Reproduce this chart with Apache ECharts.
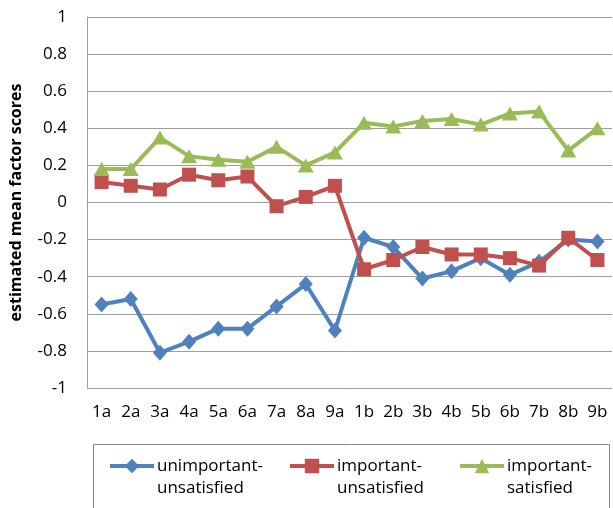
<!DOCTYPE html>
<html>
<head>
<meta charset="utf-8">
<script src="https://cdn.jsdelivr.net/npm/echarts@6/dist/echarts.min.js"></script>
<style>html,body{margin:0;padding:0;background:#fff;}#c{width:613px;height:508px;}</style>
</head>
<body>
<div id="c"></div>
<script>
const categories = ['1a','2a','3a','4a','5a','6a','7a','8a','9a','1b','2b','3b','4b','5b','6b','7b','8b','9b'];
const unimportantUnsatisfied = [-0.55,-0.52,-0.81,-0.75,-0.68,-0.68,-0.56,-0.44,-0.69,-0.19,-0.24,-0.41,-0.37,-0.30,-0.39,-0.32,-0.20,-0.21];
const importantUnsatisfied = [0.11,0.09,0.07,0.15,0.12,0.14,-0.02,0.03,0.09,-0.36,-0.31,-0.24,-0.28,-0.28,-0.30,-0.34,-0.19,-0.31];
const importantSatisfied = [0.18,0.18,0.35,0.25,0.23,0.22,0.30,0.20,0.27,0.43,0.41,0.44,0.45,0.42,0.48,0.49,0.28,0.40];
const seriesNames = ['unimportant-\nunsatisfied','important-\nunsatisfied','important-\nsatisfied'];

const FONT = '"Open Sans", sans-serif';
const GRAY = '#9D9D9D';
const chart = echarts.init(document.getElementById('c'), null, {renderer:'canvas'});

function legendAt(name, left) {
  return {
    data: [name], left: left, top: 433, orient: 'horizontal', padding: 0,
    itemWidth: 44, itemHeight: 18, itemGap: 0,
    lineStyle: {width: 4},
    formatter: '\n{name}',
    textStyle: {fontFamily: FONT, fontSize: 17, color: '#000', lineHeight: 22, padding: [0, 0, 0, -2]},
    selectedMode: false
  };
}

chart.setOption({
  animation: false,
  backgroundColor: '#fff',
  grid: {left: 87, right: 1, top: 17, bottom: 120, containLabel: false},
  graphic: [{
    type: 'rect', shape: {x: 93.5, y: 444.5, width: 516, height: 80},
    style: {fill: 'none', stroke: '#868686', lineWidth: 1}, silent: true, z: 0
  }],
  legend: [legendAt(seriesNames[0], 108), legendAt(seriesNames[1], 288), legendAt(seriesNames[2], 458)],
  xAxis: {
    type: 'category', data: categories, boundaryGap: true,
    axisLine: {lineStyle: {color: GRAY, width: 1}},
    axisTick: {show: false},
    axisLabel: {fontFamily: FONT, fontSize: 17, color: '#000', margin: 16, interval: 0}
  },
  yAxis: {
    type: 'value', min: -1, max: 1, interval: 0.2,
    name: 'estimated mean factor scores', nameLocation: 'middle', nameGap: 63,
    nameTextStyle: {fontFamily: FONT, fontSize: 16, fontWeight: 'bold', color: '#000'},
    axisLine: {show: true, lineStyle: {color: GRAY, width: 1}},
    axisTick: {show: false},
    splitLine: {lineStyle: {color: GRAY, width: 1}},
    axisLabel: {fontFamily: FONT, fontSize: 17, color: '#000', margin: 20}
  },
  series: [
    {name: seriesNames[0], type: 'line', data: unimportantUnsatisfied, symbol: 'diamond', symbolSize: [14, 16],
     itemStyle: {color: '#4F81BD'}, lineStyle: {color: '#4F81BD', width: 4}, z: 3},
    {name: seriesNames[1], type: 'line', data: importantUnsatisfied, symbol: 'rect', symbolSize: 14,
     itemStyle: {color: '#C0504D'}, lineStyle: {color: '#C0504D', width: 4}, z: 4},
    {name: seriesNames[2], type: 'line', data: importantSatisfied, symbol: 'triangle', symbolSize: [16, 14],
     itemStyle: {color: '#9BBB59'}, lineStyle: {color: '#9BBB59', width: 4}, z: 5}
  ]
});
</script>
</body>
</html>
